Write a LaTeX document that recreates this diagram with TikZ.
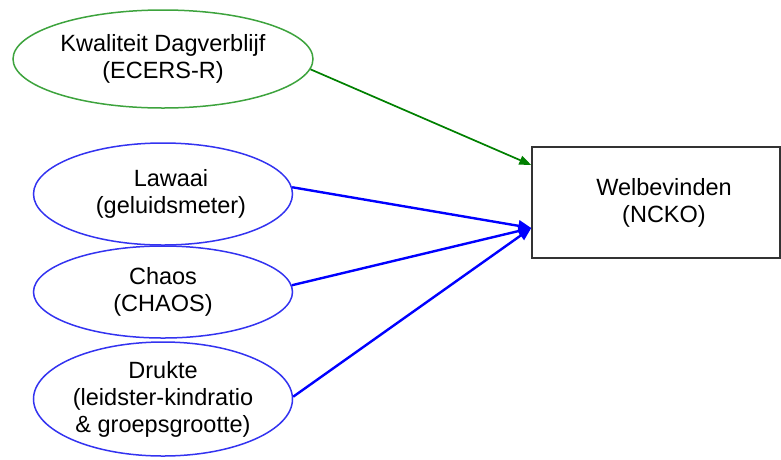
\documentclass[tikz,border=0pt]{standalone}
\usepackage{fontspec}
\setmainfont{Liberation Sans}
\usetikzlibrary{shapes.geometric,arrows.meta,calc}
\definecolor{cGreen}{HTML}{3DA33D}
\definecolor{cGreenDk}{HTML}{008000}
\definecolor{cBlue}{HTML}{3333F0}
\definecolor{cBlueDk}{HTML}{0000FF}

\begin{document}
\begin{tikzpicture}[
    x=1pt, y=-1pt,
    font=\fontsize{23.5}{27}\selectfont,
    oval/.style={ellipse, draw, line width=1.5pt, align=center, inner sep=0pt},
    ovgreen/.style={oval, draw=cGreen, minimum width=300pt, minimum height=98pt},
    ovblue/.style={oval, draw=cBlue, minimum width=259pt},
    outc/.style={draw=black!80, line width=1.4pt, align=center, minimum width=248pt, minimum height=111pt},
    garr/.style={-{Triangle[length=12pt,width=9pt]}, line width=1.7pt, cGreenDk},
    barr/.style={-{Triangle[length=13pt,width=11pt]}, line width=2.4pt, cBlueDk}
]
\useasboundingbox (0,0) rectangle (781,459);

\node[ovgreen] (kwal) at (163,59) {Kwaliteit Dagverblijf\\(ECERS-R)};
\node[ovblue, minimum height=102pt] (lawaai) at (163,194) {\hspace*{16pt}Lawaai\\\hspace*{16pt}(geluidsmeter)};
\node[ovblue, minimum height=92pt] (chaos) at (163,292) {Chaos\\(CHAOS)};
\node[ovblue, minimum height=114pt] (drukte) at (163,399) {Drukte\\(leidster-kindratio\\\& groepsgrootte)};

\node[outc] (welb) at (656,202.5) {\hspace*{16pt}Welbevinden\\\hspace*{16pt}(NCKO)};

\coordinate (gin) at ([yshift=37.5pt]welb.west);
\coordinate (bin) at ([yshift=-25.5pt]welb.west);

\draw[garr] (kwal.-4) -- (gin);
\draw[barr] (lawaai.3) -- (bin);
\draw[barr] (chaos.3) -- (bin);
\draw[barr] (drukte.1) -- (bin);
\end{tikzpicture}
\end{document}
